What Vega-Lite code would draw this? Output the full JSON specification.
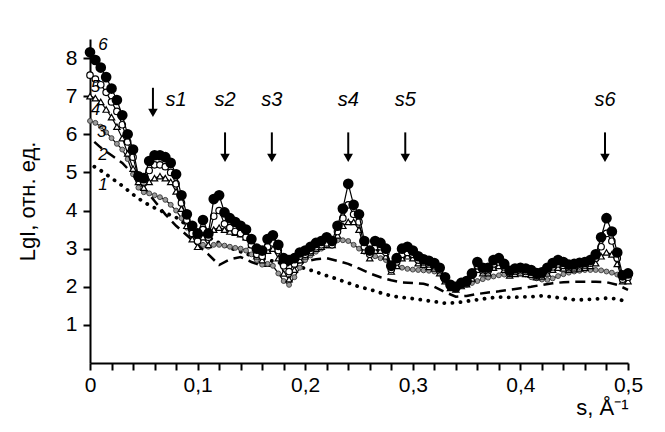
{
 "$schema": "https://vega.github.io/schema/vega-lite/v6.json",
 "width": 538, "height": 324,
 "autosize": "none",
 "padding": {"left": 90, "top": 39, "right": 37, "bottom": 69},
 "background": "white",
 "config": {"view": {"stroke": null}, "font": "Liberation Sans",
  "axis": {"domainColor": "black", "tickColor": "black", "labelColor": "black", "titleColor": "black", "grid": false, "domainWidth": 2, "tickWidth": 2, "tickSize": 7}},
 "datasets": {
  "m": [
   {"x":0,"c3":6.35,"c4":7.0,"c5":7.55,"c6":8.15},
   {"x":0.005,"c3":6.3,"c4":6.95,"c5":7.45,"c6":7.95},
   {"x":0.01,"c3":6.2,"c4":6.85,"c5":7.3,"c6":7.75},
   {"x":0.015,"c3":6.05,"c4":6.65,"c5":7.1,"c6":7.5},
   {"x":0.02,"c3":5.9,"c4":6.45,"c5":6.85,"c6":7.2},
   {"x":0.025,"c3":5.75,"c4":6.2,"c5":6.6,"c6":6.9},
   {"x":0.03,"c3":5.6,"c4":5.9,"c5":6.25,"c6":6.5},
   {"x":0.035,"c3":5.35,"c4":5.5,"c5":5.8,"c6":6.0},
   {"x":0.04,"c3":4.95,"c4":5.1,"c5":5.4,"c6":5.6},
   {"x":0.045,"c3":4.6,"c4":4.75,"c5":4.85,"c6":4.9},
   {"x":0.05,"c3":4.48,"c4":4.6,"c5":4.75,"c6":4.85},
   {"x":0.055,"c3":4.45,"c4":4.75,"c5":5.05,"c6":5.3},
   {"x":0.06,"c3":4.4,"c4":4.85,"c5":5.2,"c6":5.45},
   {"x":0.065,"c3":4.35,"c4":4.9,"c5":5.2,"c6":5.45},
   {"x":0.07,"c3":4.28,"c4":4.85,"c5":5.15,"c6":5.4},
   {"x":0.075,"c3":4.15,"c4":4.75,"c5":5.0,"c6":5.25},
   {"x":0.08,"c3":4.0,"c4":4.5,"c5":4.7,"c6":4.95},
   {"x":0.085,"c3":3.8,"c4":4.05,"c5":4.2,"c6":4.4},
   {"x":0.09,"c3":3.55,"c4":3.6,"c5":3.75,"c6":3.9},
   {"x":0.095,"c3":3.35,"c4":3.25,"c5":3.4,"c6":3.6},
   {"x":0.1,"c3":3.2,"c4":3.05,"c5":3.2,"c6":3.4},
   {"x":0.105,"c3":3.1,"c4":3.3,"c5":3.5,"c6":3.75},
   {"x":0.11,"c3":3.05,"c4":3.1,"c5":3.3,"c6":3.4},
   {"x":0.115,"c3":3.1,"c4":3.5,"c5":3.85,"c6":4.3},
   {"x":0.12,"c3":3.1,"c4":3.55,"c5":4.0,"c6":4.4},
   {"x":0.125,"c3":3.08,"c4":3.5,"c5":3.65,"c6":3.95},
   {"x":0.13,"c3":3.05,"c4":3.45,"c5":3.55,"c6":3.8},
   {"x":0.135,"c3":3.02,"c4":3.42,"c5":3.45,"c6":3.7},
   {"x":0.14,"c3":3.0,"c4":3.38,"c5":3.4,"c6":3.6},
   {"x":0.145,"c3":2.95,"c4":3.3,"c5":3.3,"c6":3.5},
   {"x":0.15,"c3":2.85,"c4":3.1,"c5":3.1,"c6":3.25},
   {"x":0.155,"c3":2.7,"c4":2.8,"c5":2.85,"c6":3.0},
   {"x":0.16,"c3":2.58,"c4":2.7,"c5":2.8,"c6":2.95},
   {"x":0.165,"c3":2.6,"c4":2.95,"c5":3.05,"c6":3.25},
   {"x":0.17,"c3":2.55,"c4":3.0,"c5":3.15,"c6":3.35},
   {"x":0.175,"c3":2.35,"c4":2.75,"c5":2.95,"c6":3.1},
   {"x":0.18,"c3":2.15,"c4":2.35,"c5":2.55,"c6":2.75},
   {"x":0.185,"c3":2.05,"c4":2.2,"c5":2.4,"c6":2.7},
   {"x":0.19,"c3":2.25,"c4":2.45,"c5":2.6,"c6":2.75},
   {"x":0.195,"c3":2.5,"c4":2.7,"c5":2.8,"c6":2.9},
   {"x":0.2,"c3":2.7,"c4":2.8,"c5":2.85,"c6":2.95},
   {"x":0.205,"c3":2.82,"c4":2.9,"c5":2.95,"c6":3.05},
   {"x":0.21,"c3":2.92,"c4":3.0,"c5":3.05,"c6":3.15},
   {"x":0.215,"c3":3.0,"c4":3.05,"c5":3.1,"c6":3.2},
   {"x":0.22,"c3":3.08,"c4":3.1,"c5":3.15,"c6":3.3},
   {"x":0.225,"c3":3.15,"c4":3.1,"c5":3.1,"c6":3.2},
   {"x":0.23,"c3":3.22,"c4":3.35,"c5":3.45,"c6":3.6},
   {"x":0.235,"c3":3.22,"c4":3.6,"c5":3.8,"c6":4.05},
   {"x":0.24,"c3":3.2,"c4":3.7,"c5":4.15,"c6":4.7},
   {"x":0.245,"c3":3.1,"c4":3.7,"c5":3.9,"c6":4.15},
   {"x":0.25,"c3":3.0,"c4":3.5,"c5":3.7,"c6":3.9},
   {"x":0.255,"c3":2.92,"c4":2.95,"c5":3.05,"c6":3.2},
   {"x":0.26,"c3":2.85,"c4":2.75,"c5":2.85,"c6":2.95},
   {"x":0.265,"c3":2.8,"c4":2.95,"c5":3.05,"c6":3.2},
   {"x":0.27,"c3":2.75,"c4":2.95,"c5":3.05,"c6":3.15},
   {"x":0.275,"c3":2.7,"c4":2.8,"c5":2.9,"c6":3.0},
   {"x":0.28,"c3":2.62,"c4":2.4,"c5":2.45,"c6":2.55},
   {"x":0.285,"c3":2.55,"c4":2.55,"c5":2.65,"c6":2.75},
   {"x":0.29,"c3":2.5,"c4":2.75,"c5":2.85,"c6":3.0},
   {"x":0.295,"c3":2.47,"c4":2.8,"c5":2.9,"c6":3.05},
   {"x":0.3,"c3":2.45,"c4":2.75,"c5":2.85,"c6":2.95},
   {"x":0.305,"c3":2.44,"c4":2.62,"c5":2.7,"c6":2.8},
   {"x":0.31,"c3":2.43,"c4":2.58,"c5":2.65,"c6":2.72},
   {"x":0.315,"c3":2.42,"c4":2.52,"c5":2.6,"c6":2.68},
   {"x":0.32,"c3":2.4,"c4":2.48,"c5":2.55,"c6":2.62},
   {"x":0.325,"c3":2.35,"c4":2.36,"c5":2.42,"c6":2.5},
   {"x":0.33,"c3":2.25,"c4":2.15,"c5":2.2,"c6":2.25},
   {"x":0.335,"c3":2.1,"c4":1.97,"c5":2.0,"c6":2.05},
   {"x":0.34,"c3":2.02,"c4":1.93,"c5":1.95,"c6":2.0},
   {"x":0.345,"c3":2.02,"c4":2.02,"c5":2.05,"c6":2.1},
   {"x":0.35,"c3":2.05,"c4":2.07,"c5":2.1,"c6":2.15},
   {"x":0.355,"c3":2.1,"c4":2.22,"c5":2.3,"c6":2.35},
   {"x":0.36,"c3":2.15,"c4":2.45,"c5":2.55,"c6":2.65},
   {"x":0.365,"c3":2.2,"c4":2.36,"c5":2.42,"c6":2.5},
   {"x":0.37,"c3":2.24,"c4":2.36,"c5":2.42,"c6":2.5},
   {"x":0.375,"c3":2.27,"c4":2.5,"c5":2.6,"c6":2.7},
   {"x":0.38,"c3":2.3,"c4":2.55,"c5":2.65,"c6":2.75},
   {"x":0.385,"c3":2.32,"c4":2.45,"c5":2.52,"c6":2.6},
   {"x":0.39,"c3":2.35,"c4":2.3,"c5":2.35,"c6":2.42},
   {"x":0.395,"c3":2.37,"c4":2.34,"c5":2.4,"c6":2.48},
   {"x":0.4,"c3":2.38,"c4":2.36,"c5":2.42,"c6":2.5},
   {"x":0.405,"c3":2.32,"c4":2.34,"c5":2.4,"c6":2.48},
   {"x":0.41,"c3":2.25,"c4":2.32,"c5":2.38,"c6":2.44},
   {"x":0.415,"c3":2.22,"c4":2.25,"c5":2.3,"c6":2.36},
   {"x":0.42,"c3":2.19,"c4":2.27,"c5":2.32,"c6":2.38},
   {"x":0.425,"c3":2.18,"c4":2.35,"c5":2.42,"c6":2.5},
   {"x":0.43,"c3":2.22,"c4":2.45,"c5":2.52,"c6":2.62},
   {"x":0.435,"c3":2.28,"c4":2.5,"c5":2.6,"c6":2.7},
   {"x":0.44,"c3":2.33,"c4":2.48,"c5":2.56,"c6":2.65},
   {"x":0.445,"c3":2.37,"c4":2.45,"c5":2.5,"c6":2.58},
   {"x":0.45,"c3":2.4,"c4":2.46,"c5":2.52,"c6":2.6},
   {"x":0.455,"c3":2.42,"c4":2.48,"c5":2.55,"c6":2.63},
   {"x":0.46,"c3":2.44,"c4":2.5,"c5":2.57,"c6":2.65},
   {"x":0.465,"c3":2.44,"c4":2.55,"c5":2.62,"c6":2.7},
   {"x":0.47,"c3":2.44,"c4":2.62,"c5":2.75,"c6":2.85},
   {"x":0.475,"c3":2.43,"c4":2.8,"c5":3.05,"c6":3.3},
   {"x":0.48,"c3":2.4,"c4":2.9,"c5":3.4,"c6":3.8},
   {"x":0.485,"c3":2.37,"c4":2.85,"c5":3.2,"c6":3.45},
   {"x":0.49,"c3":2.32,"c4":2.6,"c5":2.75,"c6":2.9},
   {"x":0.495,"c3":2.26,"c4":2.15,"c5":2.2,"c6":2.3},
   {"x":0.5,"c3":2.18,"c4":2.15,"c5":2.25,"c6":2.35}
  ],
  "ln": [
   {"x":0.004,"c1":5.15,"c2":5.8},
   {"x":0.01,"c1":5.05,"c2":5.65},
   {"x":0.02,"c1":4.85,"c2":5.45},
   {"x":0.03,"c1":4.65,"c2":5.25},
   {"x":0.04,"c1":4.42,"c2":4.95},
   {"x":0.05,"c1":4.22,"c2":4.6},
   {"x":0.06,"c1":4.07,"c2":4.25},
   {"x":0.07,"c1":3.94,"c2":3.9},
   {"x":0.08,"c1":3.82,"c2":3.6},
   {"x":0.09,"c1":3.62,"c2":3.35},
   {"x":0.1,"c1":3.45,"c2":3.1},
   {"x":0.11,"c1":3.3,"c2":2.85},
   {"x":0.12,"c1":3.15,"c2":2.57},
   {"x":0.13,"c1":3.02,"c2":2.72},
   {"x":0.14,"c1":2.92,"c2":2.78},
   {"x":0.15,"c1":2.82,"c2":2.65},
   {"x":0.16,"c1":2.74,"c2":2.55},
   {"x":0.17,"c1":2.67,"c2":2.55},
   {"x":0.18,"c1":2.6,"c2":2.58},
   {"x":0.19,"c1":2.55,"c2":2.62},
   {"x":0.2,"c1":2.48,"c2":2.67},
   {"x":0.21,"c1":2.39,"c2":2.72},
   {"x":0.22,"c1":2.29,"c2":2.75},
   {"x":0.23,"c1":2.2,"c2":2.68},
   {"x":0.24,"c1":2.1,"c2":2.6},
   {"x":0.25,"c1":2.0,"c2":2.48},
   {"x":0.26,"c1":1.93,"c2":2.35},
   {"x":0.27,"c1":1.84,"c2":2.25},
   {"x":0.28,"c1":1.76,"c2":2.17},
   {"x":0.29,"c1":1.72,"c2":2.11},
   {"x":0.3,"c1":1.69,"c2":2.1},
   {"x":0.31,"c1":1.65,"c2":2.08},
   {"x":0.32,"c1":1.61,"c2":2.0},
   {"x":0.33,"c1":1.57,"c2":1.86},
   {"x":0.34,"c1":1.58,"c2":1.74},
   {"x":0.35,"c1":1.62,"c2":1.76},
   {"x":0.36,"c1":1.66,"c2":1.81},
   {"x":0.37,"c1":1.7,"c2":1.85},
   {"x":0.38,"c1":1.73,"c2":1.88},
   {"x":0.39,"c1":1.72,"c2":1.92},
   {"x":0.4,"c1":1.73,"c2":1.96},
   {"x":0.41,"c1":1.74,"c2":2.0},
   {"x":0.42,"c1":1.76,"c2":2.05},
   {"x":0.43,"c1":1.73,"c2":2.09},
   {"x":0.44,"c1":1.7,"c2":2.12},
   {"x":0.45,"c1":1.66,"c2":2.13},
   {"x":0.46,"c1":1.66,"c2":2.13},
   {"x":0.47,"c1":1.68,"c2":2.13},
   {"x":0.48,"c1":1.7,"c2":2.12},
   {"x":0.49,"c1":1.68,"c2":2.05},
   {"x":0.5,"c1":1.6,"c2":1.92}
  ],
  "lab": [
   {"t":"6","x":0.012,"y":8.35},
   {"t":"5","x":0.005,"y":7.24},
   {"t":"4","x":0.005,"y":6.64},
   {"t":"3","x":0.011,"y":6.06},
   {"t":"2","x":0.012,"y":5.46},
   {"t":"1","x":0.012,"y":4.67}
  ],
  "arr": [
   {"s":"s1","x":0.0585,"y":7.22,"y2":6.56},
   {"s":"s2","x":0.1255,"y":6.05,"y2":5.38},
   {"s":"s3","x":0.169,"y":6.05,"y2":5.38},
   {"s":"s4","x":0.24,"y":6.05,"y2":5.38},
   {"s":"s5","x":0.293,"y":6.05,"y2":5.38},
   {"s":"s6","x":0.4786,"y":6.05,"y2":5.38}
  ],
  "ah": [
   {"x":0.0585,"y":6.56},
   {"x":0.1255,"y":5.38},
   {"x":0.169,"y":5.38},
   {"x":0.24,"y":5.38},
   {"x":0.293,"y":5.38},
   {"x":0.4786,"y":5.38}
  ],
  "al": [
   {"s":"s1","x":0.08,"y":6.9},
   {"s":"s2","x":0.1255,"y":6.9},
   {"s":"s3","x":0.169,"y":6.9},
   {"s":"s4","x":0.24,"y":6.9},
   {"s":"s5","x":0.293,"y":6.9},
   {"s":"s6","x":0.4786,"y":6.9}
  ]
 },
 "encoding": {
  "x": {"field": "x", "type": "quantitative", "scale": {"domain": [0, 0.5], "nice": false, "zero": false},
   "axis": {"values": [0,0.02,0.04,0.06,0.08,0.1,0.12,0.14,0.16,0.18,0.2,0.22,0.24,0.26,0.28,0.3,0.32,0.34,0.36,0.38,0.4,0.42,0.44,0.46,0.48,0.5],
    "labelExpr": "abs(datum.value*10 - round(datum.value*10)) < 0.001 ? (datum.value == 0 ? '0' : replace(format(datum.value, '.1f'), '.', ',')) : ''",
    "labelFontSize": 21, "labelPadding": 4, "labelFlush": false, "labelOverlap": false,
    "title": "s, Å⁻¹", "titleAnchor": "end", "titleFontSize": 22, "titleFontWeight": "normal", "titlePadding": 2}},
  "y": {"field": "y", "type": "quantitative", "scale": {"domain": [0, 8.5], "nice": false, "zero": false},
   "axis": {"values": [1,2,3,4,5,6,7,8], "labelFontSize": 21, "labelPadding": 6,
    "title": "LgI, отн. ед.", "titleFontSize": 22, "titleFontWeight": "normal", "titlePadding": 26}}
 },
 "layer": [
  {"data": {"name": "ln"}, "transform": [{"fold": ["c1"], "as": ["k", "y"]}],
   "mark": {"type": "line", "color": "black", "strokeWidth": 3.8, "strokeDash": [0.1, 8], "strokeCap": "round"}},
  {"data": {"name": "ln"}, "transform": [{"fold": ["c2"], "as": ["k", "y"]}],
   "mark": {"type": "line", "color": "black", "strokeWidth": 2.5, "strokeDash": [10, 6]}},
  {"data": {"name": "m"}, "transform": [{"fold": ["c3"], "as": ["k", "y"]}],
   "mark": {"type": "line", "color": "black", "strokeWidth": 1.2}},
  {"data": {"name": "m"}, "transform": [{"fold": ["c3"], "as": ["k", "y"]}],
   "mark": {"type": "point", "shape": "circle", "filled": true, "fill": "#9a9a9a", "stroke": "#444", "strokeWidth": 1, "size": 24, "opacity": 1}},
  {"data": {"name": "m"}, "transform": [{"fold": ["c4"], "as": ["k", "y"]}],
   "mark": {"type": "line", "color": "black", "strokeWidth": 1.2}},
  {"data": {"name": "m"}, "transform": [{"fold": ["c4"], "as": ["k", "y"]}],
   "mark": {"type": "point", "shape": "triangle-up", "filled": true, "fill": "white", "stroke": "black", "strokeWidth": 1.2, "size": 40, "opacity": 1}},
  {"data": {"name": "m"}, "transform": [{"fold": ["c5"], "as": ["k", "y"]}],
   "mark": {"type": "line", "color": "black", "strokeWidth": 1.2}},
  {"data": {"name": "m"}, "transform": [{"fold": ["c5"], "as": ["k", "y"]}],
   "mark": {"type": "point", "shape": "circle", "filled": true, "fill": "white", "stroke": "black", "strokeWidth": 1.2, "size": 42, "opacity": 1}},
  {"data": {"name": "m"}, "transform": [{"fold": ["c6"], "as": ["k", "y"]}],
   "mark": {"type": "line", "color": "black", "strokeWidth": 1.2}},
  {"data": {"name": "m"}, "transform": [{"fold": ["c6"], "as": ["k", "y"]}],
   "mark": {"type": "point", "shape": "circle", "filled": true, "fill": "black", "stroke": "black", "size": 75, "opacity": 1}},
  {"data": {"name": "lab"}, "mark": {"type": "text", "fontSize": 17, "fontStyle": "italic", "align": "center", "baseline": "middle", "color": "black"},
   "encoding": {"text": {"field": "t"}}},
  {"data": {"name": "arr"}, "mark": {"type": "rule", "color": "black", "strokeWidth": 2},
   "encoding": {"y2": {"field": "y2"}}},
  {"data": {"name": "ah"}, "mark": {"type": "point", "shape": "triangle-down", "filled": true, "color": "black", "size": 90, "opacity": 1}},
  {"data": {"name": "al"}, "mark": {"type": "text", "fontSize": 20, "fontStyle": "italic", "align": "center", "baseline": "middle", "color": "black"},
   "encoding": {"text": {"field": "s"}}}
 ]
}
